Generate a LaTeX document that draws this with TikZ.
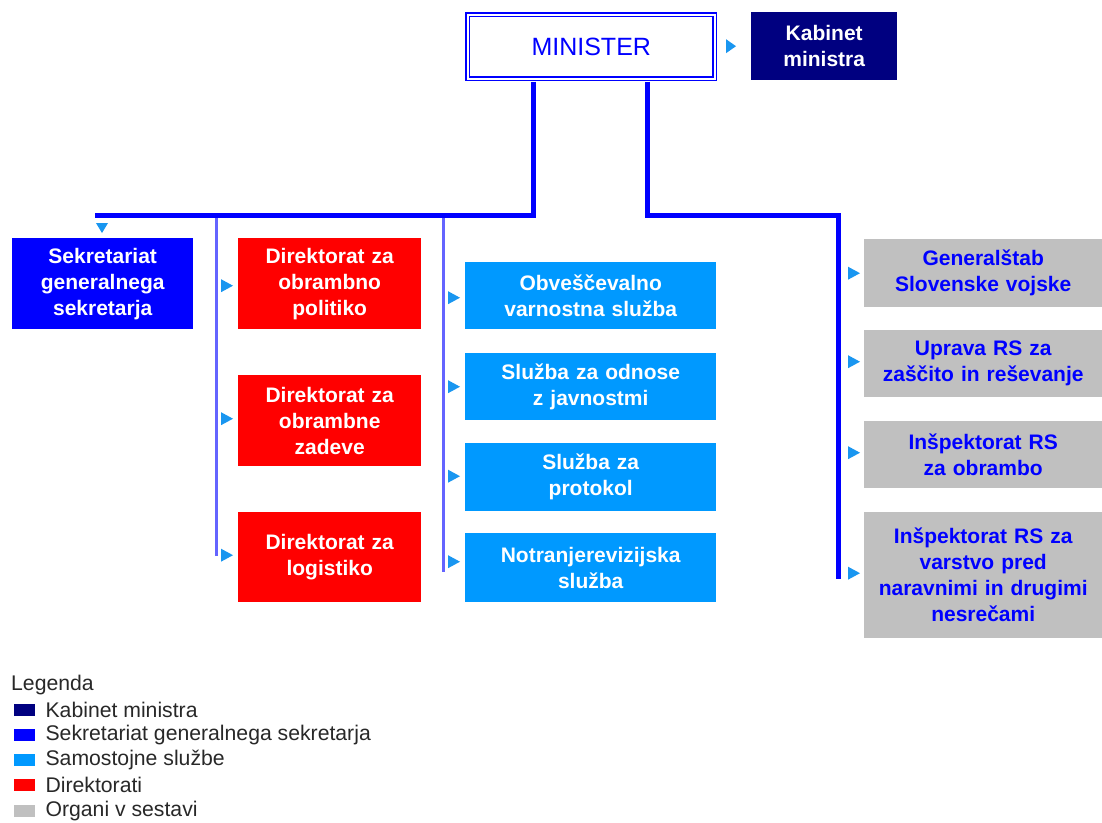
\documentclass[tikz,border=0pt]{standalone}
\usepackage{fontspec}
\setmainfont{Liberation Sans}
\usetikzlibrary{calc}
\definecolor{navyc}{RGB}{0,0,128}
\definecolor{bluec}{RGB}{0,0,255}
\definecolor{skyc}{RGB}{0,153,255}
\definecolor{redc}{RGB}{255,0,0}
\definecolor{greyc}{RGB}{192,192,192}
\definecolor{arrc}{RGB}{25,150,240}
\definecolor{thinc}{RGB}{100,100,255}
\definecolor{legtext}{RGB}{40,40,40}
\tikzset{
  box/.style 2 args={anchor=north west, inner sep=0pt, align=center,
    text width=#1pt, minimum height=#2pt,
    font=\bfseries\fontsize{21}{26}\selectfont},
  whitebox/.style={text=white},
  greybox/.style={fill=greyc, text=bluec},
  thickline/.style={draw=bluec, line width=5pt},
  thinline/.style={draw=thinc, line width=3pt},
  tri/.style={fill=arrc},
  legsq/.style={anchor=north west, inner sep=0pt, minimum width=21pt, minimum height=12pt},
  legtxt/.style={anchor=west, inner sep=0pt, text=legtext, font=\fontsize{21.2}{24}\selectfont}
}
\begin{document}
\begin{tikzpicture}[x=1pt,y=-1pt]
\useasboundingbox[fill=white] (0,0) rectangle (1102,822);

% top
\node[anchor=north west, inner sep=0pt, minimum width=247pt, minimum height=64pt,
  draw=bluec, double=white, double distance=2pt, line width=1.5pt,
  text=bluec, font=\fontsize{25}{30}\selectfont] (min) at (467,14) {MINISTER};
\node[box={146}{68}, whitebox, fill=navyc] (kab) at (751,12) {Kabinet\\ministra};

% left column
\node[box={181}{91}, whitebox, fill=bluec] (sek) at (12,238) {Sekretariat\\generalnega\\sekretarja};
% red
\node[box={183}{91}, whitebox, fill=redc] (d1) at (238,238) {Direktorat za\\obrambno\\politiko};
\node[box={183}{91}, whitebox, fill=redc] (d2) at (238,375) {Direktorat za\\obrambne\\zadeve};
\node[box={183}{90}, whitebox, fill=redc] (d3) at (238,512) {Direktorat za\\logistiko};
% sky
\node[box={251}{67}, whitebox, fill=skyc] (s1) at (465,262) {Obveščevalno\\varnostna služba};
\node[box={251}{67}, whitebox, fill=skyc] (s2) at (465,353) {Služba za odnose\\z javnostmi};
\node[box={251}{68}, whitebox, fill=skyc] (s3) at (465,443) {Služba za\\protokol};
\node[box={251}{69}, whitebox, fill=skyc] (s4) at (465,533) {Notranjerevizijska\\služba};
% grey
\node[box={238}{68}, greybox] (g1) at (864,239) {Generalštab\\Slovenske vojske};
\node[box={238}{67}, greybox] (g2) at (864,330) {Uprava RS za\\zaščito in reševanje};
\node[box={238}{67}, greybox] (g3) at (864,421) {Inšpektorat RS\\za obrambo};
\node[box={238}{126}, greybox] (g4) at (864,512) {Inšpektorat RS za\\varstvo pred\\naravnimi in drugimi\\nesrečami};

% bus coordinates
\coordinate (busL) at (95,215);
\coordinate (busR) at (838,215);
\coordinate (endR) at (838,579);
\coordinate (t1top) at (216,215);
\coordinate (t1end) at (216,556);
\coordinate (t2top) at (443,215);
\coordinate (t2end) at (443,572);

% connectors
\draw[thinline] (t1top) -- (t1end);
\draw[thinline] (t2top) -- (t2end);
\draw[thickline] ($(min.south west)+(66,2)$) |- (busL);
\draw[thickline] ($(min.south west)+(180,2)$) |- (busR) -- (endR);

% arrow heads
\fill[tri] ($(kab.west)+(-25,-7)$) -- ++(10,7) -- ++(-10,7) -- cycle;
\fill[tri] ($(sek.north west)+(84,-15)$) -- ++(12,0) -- ++(-6,10) -- cycle;
\foreach \n/\dy in {d1/2, d2/-2, d3/-2}{
  \fill[tri] ($(\n.west)+(-17,\dy-6.5)$) -- ++(12,6.5) -- ++(-12,6.5) -- cycle;
}
\foreach \n/\dy in {s1/2, s2/0, s3/-1, s4/-6}{
  \fill[tri] ($(\n.west)+(-17,\dy-6.5)$) -- ++(12,6.5) -- ++(-12,6.5) -- cycle;
}
\foreach \n/\dy in {g1/0, g2/-2, g3/-2, g4/-2}{
  \fill[tri] ($(\n.west)+(-16,\dy-6.5)$) -- ++(12,6.5) -- ++(-12,6.5) -- cycle;
}

% legend
\node[anchor=west, inner sep=0pt, text=legtext, font=\fontsize{21.2}{24}\selectfont] (leg) at (11,685) {Legenda};
\node[legsq, fill=navyc] (l1) at (14,704) {};
\node[legsq, fill=bluec] (l2) at (14,729) {};
\node[legsq, fill=skyc] (l3) at (14,754) {};
\node[legsq, fill=redc] (l4) at (14,779) {};
\node[legsq, fill=greyc] (l5) at (14,805) {};
\node[legtxt] at ($(l1.east)+(10,0)$) {Kabinet ministra};
\node[legtxt] at ($(l2.east)+(10,0)$) {Sekretariat generalnega sekretarja};
\node[legtxt] at ($(l3.east)+(10,0)$) {Samostojne službe};
\node[legtxt] at ($(l4.east)+(10,0)$) {Direktorati};
\node[legtxt] at ($(l5.east)+(10,0)$) {Organi v sestavi};
\end{tikzpicture}
\end{document}
